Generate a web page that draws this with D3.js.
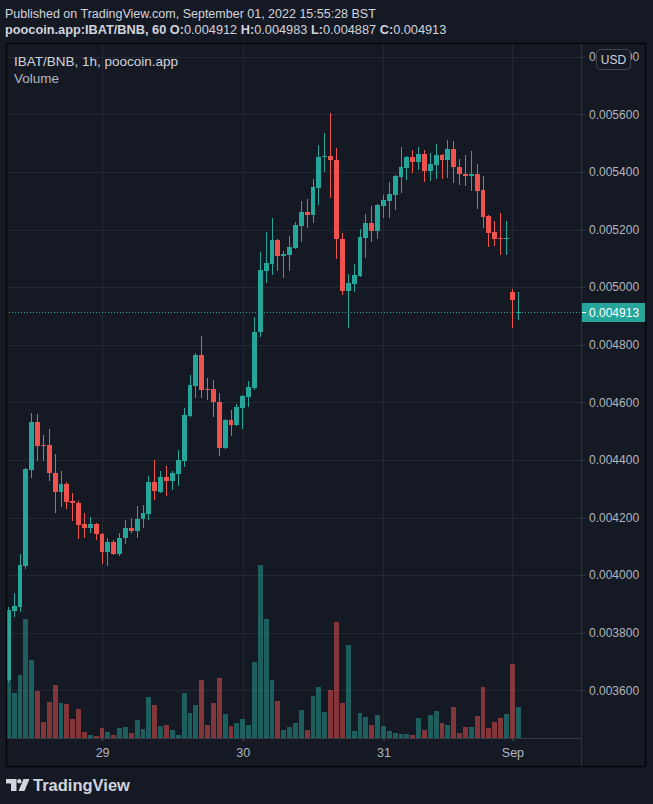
<!DOCTYPE html>
<html>
<head>
<meta charset="utf-8">
<script src="https://cdn.jsdelivr.net/npm/d3@7"></script>
<style>
  html, body { margin: 0; padding: 0; background: #151924; }
  svg { display: block; }
  text { font-family: "Liberation Sans", Arial, sans-serif; }
</style>
</head>
<body>
<script>
// IBAT/BNB 1h candles, Aug 28 - Sep 1 2022
var opens = [
  0.003636,0.003875,0.003889,0.004032,0.004365,0.004532,0.004450,0.004450,0.004355,0.004289,
  0.004316,0.004257,0.004252,0.004178,0.004164,0.004178,0.004143,0.004080,0.004115,0.004073,
  0.004129,0.004164,0.004153,0.004195,0.004213,0.004323,0.004289,0.004341,0.004327,0.004351,
  0.004397,0.004553,0.004657,0.004764,0.004646,0.004646,0.004601,0.004441,0.004539,0.004521,
  0.004580,0.004618,0.004650,0.004844,0.005056,0.005080,0.005164,0.005108,0.005112,0.005136,
  0.005212,0.005261,0.005250,0.005344,0.005452,0.005455,0.005441,0.005167,0.004986,0.005011,
  0.005038,0.005170,0.005223,0.005195,0.005282,0.005299,0.005320,0.005382,0.005414,0.005452,
  0.005434,0.005462,0.005403,0.005424,0.005459,0.005441,0.005480,0.005417,0.005393,0.005386,
  0.005393,0.005337,0.005247,0.005191,0.005170,0.005167,0.004983,0.004912
];
var highs = [
  0.003889,0.003938,0.004073,0.004372,0.004563,0.004559,0.004486,0.004507,0.004421,0.004361,
  0.004323,0.004285,0.004258,0.004216,0.004202,0.004181,0.004147,0.004129,0.004122,0.004147,
  0.004191,0.004198,0.004240,0.004243,0.004344,0.004400,0.004361,0.004379,0.004361,0.004434,
  0.004580,0.004695,0.004771,0.004830,0.004684,0.004677,0.004632,0.004542,0.004573,0.004594,
  0.004625,0.004674,0.004896,0.005122,0.005191,0.005240,0.005167,0.005125,0.005177,0.005226,
  0.005299,0.005306,0.005375,0.005493,0.005535,0.005604,0.005483,0.005188,0.005045,0.005080,
  0.005202,0.005254,0.005282,0.005289,0.005320,0.005365,0.005389,0.005486,0.005455,0.005476,
  0.005486,0.005476,0.005466,0.005497,0.005462,0.005511,0.005507,0.005445,0.005459,0.005473,
  0.005427,0.005386,0.005249,0.005230,0.005257,0.005230,0.004993,0.004983
];
var lows = [
  0.003630,0.003855,0.003872,0.004021,0.004337,0.004396,0.004396,0.004327,0.004216,0.004237,
  0.004230,0.004188,0.004125,0.004129,0.004146,0.004122,0.004039,0.004032,0.004070,0.004066,
  0.004108,0.004146,0.004129,0.004164,0.004191,0.004261,0.004285,0.004275,0.004296,0.004309,
  0.004375,0.004549,0.004615,0.004615,0.004608,0.004549,0.004414,0.004438,0.004483,0.004518,
  0.004507,0.004584,0.004643,0.004827,0.005014,0.005042,0.005056,0.005032,0.005056,0.005132,
  0.005157,0.005205,0.005223,0.005285,0.005400,0.005309,0.005098,0.004973,0.004858,0.004983,
  0.005035,0.005101,0.005157,0.005167,0.005240,0.005240,0.005268,0.005327,0.005372,0.005396,
  0.005407,0.005365,0.005368,0.005375,0.005375,0.005379,0.005362,0.005355,0.005351,0.005334,
  0.005271,0.005205,0.005139,0.005143,0.005111,0.005111,0.004858,0.004887
];
var closes = [
  0.003879,0.003893,0.004035,0.004368,0.004532,0.004448,0.004447,0.004355,0.004289,0.004316,
  0.004254,0.004250,0.004174,0.004164,0.004178,0.004143,0.004080,0.004115,0.004073,0.004129,
  0.004164,0.004153,0.004195,0.004216,0.004323,0.004292,0.004341,0.004327,0.004355,0.004400,
  0.004556,0.004660,0.004764,0.004643,0.004643,0.004601,0.004441,0.004539,0.004521,0.004584,
  0.004622,0.004653,0.004844,0.005059,0.005084,0.005164,0.005108,0.005115,0.005139,0.005216,
  0.005261,0.005250,0.005348,0.005452,0.005455,0.005441,0.005167,0.004986,0.005014,0.005042,
  0.005174,0.005223,0.005195,0.005285,0.005302,0.005323,0.005386,0.005417,0.005452,0.005434,
  0.005462,0.005403,0.005427,0.005459,0.005441,0.005480,0.005417,0.005393,0.005386,0.005393,
  0.005334,0.005243,0.005188,0.005167,0.005167,0.005170,0.004955,0.004913
];
// relative volume per bar
var volumes = [
  58,45,63,119,78,47,16,36,53,35,
  34,19,29,6,3,2,10,6,3,10,
  11,5,18,9,41,33,12,13,8,3,
  45,25,33,58,13,35,60,24,12,15,
  19,13,76,173,119,58,37,8,11,15,
  28,8,42,51,26,48,116,35,93,7,
  25,21,13,23,12,7,5,4,4,3,
  20,8,23,27,15,13,31,5,11,11,
  22,51,10,16,20,24,74,31
];
var priceTicks = [0.0058,0.0056,0.0054,0.0052,0.0050,0.0048,0.0046,0.0044,0.0042,0.0040,0.0038,0.0036];
var dayTickIndex = [16, 40, 64, 86];
var dayTickLabels = ["29", "30", "31", "Sep"];
var lastPrice = 0.004913;

var width = 653, height = 804;
var pane = { left: 6, top: 43, right: 581, bottom: 738, outerRight: 646, outerBottom: 767 };
var upColor = '#26a69a', downColor = '#ef5350', bg = '#151924';
var gridColor = '#242833', axisText = '#b2b5be';

var svg = d3.select('body').append('svg')
  .attr('width', width)
  .attr('height', height);

svg.append('rect').attr('width', width).attr('height', height).attr('fill', bg);

svg.append('clipPath').attr('id', 'pane-clip')
  .append('rect')
    .attr('x', pane.left + 1).attr('y', pane.top + 1)
    .attr('width', pane.right - pane.left - 1).attr('height', pane.bottom - pane.top - 1);

var x = d3.scaleLinear().domain([0, closes.length - 1]).range([8.3, 518.3]);
var y = d3.scaleLinear().domain([0.0036, 0.0056]).range([690.3, 114.3]);
var yVol = d3.scaleLinear().domain([0, d3.max(volumes)]).range([pane.bottom, 565]);

// grid
var hGrid = svg.append('g')
  .attr('transform', 'translate(' + pane.right + ',0)')
  .call(d3.axisLeft(y).tickValues(priceTicks).tickSize(pane.right - pane.left).tickFormat(''));
var vGrid = svg.append('g')
  .attr('transform', 'translate(0,' + pane.bottom + ')')
  .call(d3.axisBottom(x).tickValues(dayTickIndex).tickSize(-(pane.bottom - pane.top)).tickFormat(''));
[hGrid, vGrid].forEach(function(g) {
  g.select('.domain').remove();
  g.selectAll('line').attr('stroke', gridColor).attr('shape-rendering', 'crispEdges');
});

var up = function(i) { return closes[i] >= opens[i]; };
var barLeft = function(i) { return Math.round(x(i) - 2.5); };
var barWidth = function(i) { return Math.min(5, barLeft(i + 1) - barLeft(i) - 1); };

var plot = svg.append('g').attr('clip-path', 'url(#pane-clip)');

// volume
plot.append('g').selectAll('rect')
  .data(volumes)
  .enter().append('rect')
    .attr('x', function(d, i) { return barLeft(i); })
    .attr('width', function(d, i) { return barWidth(i); })
    .attr('y', function(d) { return Math.round(yVol(d)); })
    .attr('height', function(d) { return pane.bottom - Math.round(yVol(d)); })
    .attr('fill', function(d, i) { return up(i) ? upColor : downColor; })
    .attr('fill-opacity', 0.5)
    .attr('shape-rendering', 'crispEdges');

// last price line
plot.append('line')
  .attr('x1', pane.left).attr('x2', pane.right)
  .attr('y1', Math.round(y(lastPrice)) + 0.5).attr('y2', Math.round(y(lastPrice)) + 0.5)
  .attr('stroke', upColor)
  .attr('stroke-dasharray', '1,2');

// candles
var candle = plot.append('g').selectAll('g')
  .data(closes)
  .enter().append('g')
    .attr('fill', function(d, i) { return up(i) ? upColor : downColor; })
    .attr('shape-rendering', 'crispEdges');

candle.append('rect')
  .attr('x', function(d, i) { return Math.round(x(i) - 0.5); })
  .attr('width', 1)
  .attr('y', function(d, i) { return Math.round(y(highs[i])); })
  .attr('height', function(d, i) { return Math.max(1, Math.round(y(lows[i])) - Math.round(y(highs[i]))); });

candle.append('rect')
  .attr('x', function(d, i) { return barLeft(i); })
  .attr('width', function(d, i) { return barWidth(i); })
  .attr('y', function(d, i) { return Math.round(y(Math.max(opens[i], closes[i]))); })
  .attr('height', function(d, i) {
    return Math.max(1, Math.round(y(Math.min(opens[i], closes[i]))) - Math.round(y(Math.max(opens[i], closes[i]))));
  });

// price axis
var yAxis = svg.append('g')
  .attr('transform', 'translate(' + pane.right + ',0)')
  .call(d3.axisRight(y).tickValues(priceTicks).tickFormat(d3.format('.6f')).tickSize(4).tickPadding(4));
yAxis.select('.domain').remove();
yAxis.selectAll('line').attr('stroke', '#363a45');
yAxis.selectAll('text').attr('fill', axisText).attr('font-size', 12).attr('font-family', '"Liberation Sans", Arial, sans-serif');

// time axis
var xAxis = svg.append('g')
  .attr('transform', 'translate(0,' + pane.bottom + ')')
  .call(d3.axisBottom(x).tickValues(dayTickIndex).tickFormat(function(d, i) { return dayTickLabels[i]; }).tickSize(3).tickPadding(7));
xAxis.select('.domain').remove();
xAxis.selectAll('line').attr('stroke', '#505461');
xAxis.selectAll('text').attr('fill', axisText).attr('font-size', 12.5).attr('font-family', '"Liberation Sans", Arial, sans-serif');

// separators and frame
svg.append('line')
  .attr('x1', pane.left).attr('x2', pane.right).attr('y1', pane.bottom + 0.5).attr('y2', pane.bottom + 0.5)
  .attr('stroke', '#363a45');
svg.append('line')
  .attr('x1', pane.right + 0.5).attr('x2', pane.right + 0.5).attr('y1', pane.top).attr('y2', pane.outerBottom)
  .attr('stroke', '#2e3240');
svg.append('rect')
  .attr('x', pane.left + 0.5).attr('y', pane.top + 0.5)
  .attr('width', pane.outerRight - pane.left - 1).attr('height', pane.outerBottom - pane.top - 1)
  .attr('fill', 'none').attr('stroke', '#05060a').attr('stroke-width', 1.5);

// last price label
var ly = Math.round(y(lastPrice));
svg.append('rect')
  .attr('x', pane.right + 1).attr('y', ly - 9)
  .attr('width', pane.outerRight - pane.right - 2).attr('height', 19)
  .attr('fill', upColor);
svg.append('line')
  .attr('x1', pane.right + 1).attr('x2', pane.right + 5).attr('y1', ly + 0.5).attr('y2', ly + 0.5)
  .attr('stroke', '#ffffff');
svg.append('text')
  .attr('x', 589).attr('y', ly + 4.5)
  .attr('fill', '#ffffff').attr('font-size', 12)
  .text(d3.format('.6f')(lastPrice));

// USD button over the top tick label (the reference shows it covering that label)
svg.append('rect')
  .attr('x', 596.5).attr('y', 49.5).attr('width', 34).attr('height', 20).attr('rx', 4)
  .attr('fill', bg).attr('stroke', '#434651');
svg.append('text')
  .attr('x', 613.5).attr('y', 63.5).attr('text-anchor', 'middle')
  .attr('fill', '#d1d4dc').attr('font-size', 12)
  .text('USD');

// header
svg.append('text')
  .attr('x', 5).attr('y', 17.5)
  .attr('fill', '#d1d4dc').attr('font-size', 12.5)
  .text('Published on TradingView.com, September 01, 2022 15:55:28 BST');

var ohlc = svg.append('text')
  .attr('x', 5).attr('y', 34)
  .attr('fill', '#d1d4dc').attr('font-size', 12.75);
ohlc.append('tspan').attr('font-weight', 'bold').text('poocoin.app:IBAT/BNB, 60 ');
[['O', opens], ['H', highs], ['L', lows], ['C', closes]].forEach(function(p, k) {
  ohlc.append('tspan').attr('font-weight', 'bold').text((k ? ' ' : '') + p[0] + ':');
  ohlc.append('tspan').text(d3.format('.6f')(p[1][p[1].length - 1]));
});

// pane legend
svg.append('text')
  .attr('x', 14).attr('y', 65.5)
  .attr('fill', '#d1d4dc').attr('font-size', 13.5)
  .text('IBAT/BNB, 1h, poocoin.app');
svg.append('text')
  .attr('x', 14).attr('y', 82.5)
  .attr('fill', axisText).attr('font-size', 13.5)
  .text('Volume');

// TradingView mark
var logo = svg.append('g').attr('fill', '#d1d4dc');
logo.append('path').attr('d', 'M6,779 H16.5 V791 H11 V783.5 H6 Z');
logo.append('circle').attr('cx', 19.3).attr('cy', 781.2).attr('r', 2.2);
logo.append('path').attr('d', 'M23.5,779 H29.5 L24.5,791 H18.5 Z');
svg.append('text')
  .attr('x', 33).attr('y', 791)
  .attr('fill', '#d1d4dc').attr('font-size', 16.5).attr('font-weight', 600)
  .attr('font-family', 'Lato, "Noto Sans", sans-serif')
  .text('TradingView');
</script>
</body>
</html>
